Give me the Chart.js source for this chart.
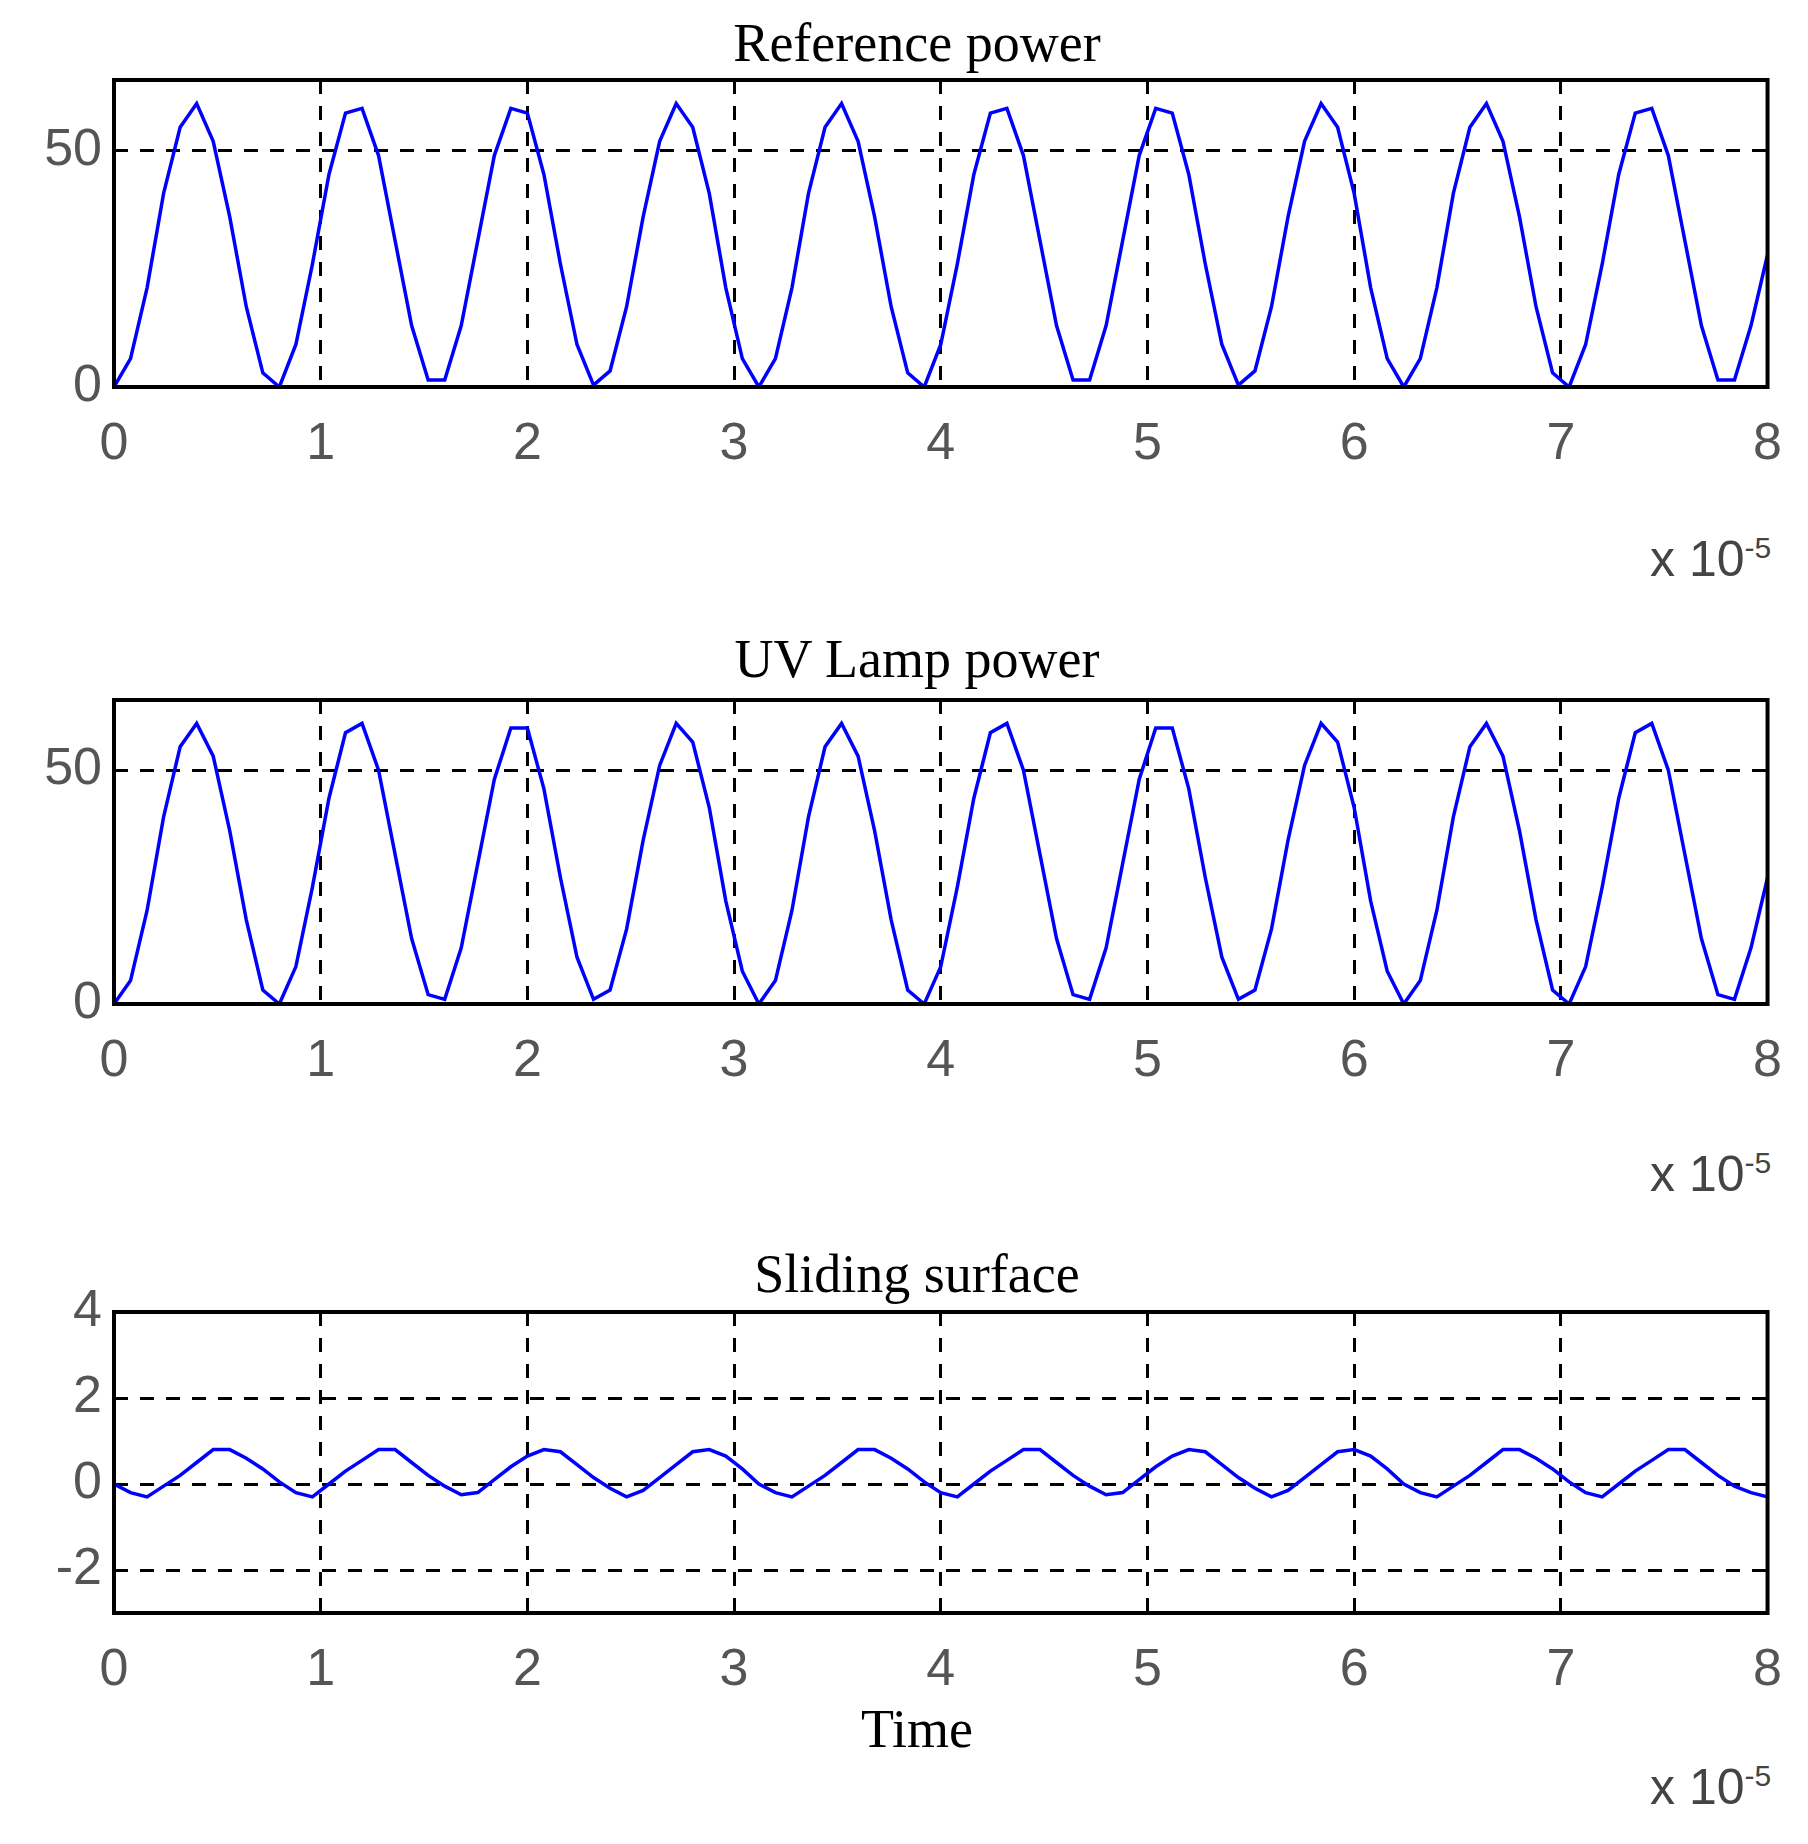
<!DOCTYPE html>
<html>
<head>
<meta charset="utf-8">
<script src="https://cdn.jsdelivr.net/npm/chart.js@4"></script>
<style>
  body { margin: 0; background: #fff; width: 1808px; height: 1844px; position: relative; overflow: hidden; }
  canvas { position: absolute; left: 0; }
  .ttl { position: absolute; left: 84px; width: 1666px; text-align: center; font-family: "Liberation Serif", serif; font-size: 54px; color: #000; }
  .exp { position: absolute; left: 1650px; font-family: "Liberation Sans Narrow", "Liberation Sans", sans-serif; font-size: 50px; color: #444; }
  .exp sup { font-size: 30px; }
</style>
</head>
<body>
<div class="ttl" style="top:12px">Reference power</div>
<div class="ttl" style="top:628px">UV Lamp power</div>
<div class="ttl" style="top:1243px">Sliding surface</div>
<div class="ttl" style="top:1698px">Time</div>
<div class="exp" style="top:530px">x 10<sup>-5</sup></div>
<div class="exp" style="top:1145px">x 10<sup>-5</sup></div>
<div class="exp" style="top:1758px">x 10<sup>-5</sup></div>
<canvas id="c1"></canvas>
<canvas id="c2"></canvas>
<canvas id="c3"></canvas>
<script>
// time axis in units of 1e-5 s, sampled every 0.08
const timeStep = 0.08;
const xTicks = [0, 1, 2, 3, 4, 5, 6, 7, 8];

const referencePower = [
  0, 6, 21, 41, 55, 60, 52, 36, 17, 3, 0, 9, 26, 45, 58, 59, 49, 31, 13, 1.5,
  1.5, 13, 31, 49, 59, 58, 45, 26, 9, 0.4, 3.4, 17, 36, 52, 60, 55, 41, 21, 6,
  0, 6, 21, 41, 55, 60, 52, 36, 17, 3, 0, 9, 26, 45, 58, 59, 49, 31, 13, 1.5,
  1.5, 13, 31, 49, 59, 58, 45, 26, 9, 0.4, 3.4, 17, 36, 52, 60, 55, 41, 21, 6,
  0, 6, 21, 41, 55, 60, 52, 36, 17, 3, 0, 9, 26, 45, 58, 59, 49, 31, 13, 1.5,
  1.5, 13, 28
];
const lampPower = [
  0, 5, 20, 40, 55, 60, 53, 37, 18, 3, 0, 8, 25, 44, 58, 60, 50, 32, 14, 2,
  1, 12, 30, 48, 59, 59, 46, 27, 10, 1, 3, 16, 35, 51, 60, 56, 42, 22, 7,
  0, 5, 20, 40, 55, 60, 53, 37, 18, 3, 0, 8, 25, 44, 58, 60, 50, 32, 14, 2,
  1, 12, 30, 48, 59, 59, 46, 27, 10, 1, 3, 16, 35, 51, 60, 56, 42, 22, 7,
  0, 5, 20, 40, 55, 60, 53, 37, 18, 3, 0, 8, 25, 44, 58, 60, 50, 32, 14, 2,
  1, 12, 27
];
const slidingSurface = [
  0, -0.2, -0.3, -0.05, 0.2, 0.5, 0.8, 0.8, 0.6, 0.35, 0.05, -0.2, -0.3, 0, 0.3, 0.55, 0.8, 0.8, 0.5, 0.2,
  -0.05, -0.25, -0.2, 0.1, 0.4, 0.65, 0.8, 0.75, 0.45, 0.15, -0.1, -0.3, -0.15, 0.15, 0.45, 0.75, 0.8, 0.65, 0.35,
  0, -0.2, -0.3, -0.05, 0.2, 0.5, 0.8, 0.8, 0.6, 0.35, 0.05, -0.2, -0.3, 0, 0.3, 0.55, 0.8, 0.8, 0.5, 0.2,
  -0.05, -0.25, -0.2, 0.1, 0.4, 0.65, 0.8, 0.75, 0.45, 0.15, -0.1, -0.3, -0.15, 0.15, 0.45, 0.75, 0.8, 0.65, 0.35,
  0, -0.2, -0.3, -0.05, 0.2, 0.5, 0.8, 0.8, 0.6, 0.35, 0.05, -0.2, -0.3, 0, 0.3, 0.55, 0.8, 0.8, 0.5, 0.2,
  -0.05, -0.2, -0.3
];
const powerTicks = [0, 50];
const surfaceTicks = [-2, 0, 2, 4];

const tickFont = { family: "'Liberation Sans Narrow', 'Liberation Sans', sans-serif", size: 52 };

// solid frame around the plot area
const boxPlugin = {
  id: "box",
  afterDraw(chart) {
    const a = chart.chartArea, ctx = chart.ctx;
    ctx.save();
    ctx.strokeStyle = "#000";
    ctx.lineWidth = 4;
    ctx.strokeRect(a.left, a.top, a.right - a.left, a.bottom - a.top);
    ctx.restore();
  }
};

function makeChart(id, top, height, values, yMin, yMax, yTicks) {
  const cv = document.getElementById(id);
  cv.width = 1808;
  cv.height = height;
  cv.style.top = top + "px";
  cv.style.width = "1808px";
  cv.style.height = height + "px";
  const pts = values.map((v, i) => ({ x: +(i * timeStep).toFixed(2), y: v }));
  return new Chart(cv, {
    type: "line",
    data: { datasets: [{ data: pts, borderColor: "#0000ff", borderWidth: 3.5, pointRadius: 0, tension: 0, fill: false }] },
    options: {
      responsive: false,
      animation: false,
      devicePixelRatio: 1,
      layout: { padding: { top: 80, right: 28, left: 0, bottom: 0 } },
      plugins: { legend: { display: false }, tooltip: { enabled: false } },
      scales: {
        x: {
          type: "linear", min: 0, max: 8,
          afterBuildTicks: (s) => { s.ticks = xTicks.map(v => ({ value: v })); },
          afterFit: (s) => { s.height = 100; },
          grid: { color: "#000", lineWidth: 3, drawTicks: false },
          border: { display: false, dash: [14, 12] },
          ticks: { color: "#555", font: tickFont, padding: 26, maxRotation: 0 }
        },
        y: {
          min: yMin, max: yMax,
          afterBuildTicks: (s) => { s.ticks = yTicks.map(v => ({ value: v })); },
          afterFit: (s) => { s.width = 114; },
          grid: { color: "#000", lineWidth: 3, drawTicks: false },
          border: { display: false, dash: [14, 12] },
          ticks: { color: "#555", font: tickFont, padding: 12 }
        }
      }
    },
    plugins: [boxPlugin]
  });
}

makeChart("c1", 0, 487, referencePower, 0, 65, powerTicks);
makeChart("c2", 620, 484, lampPower, 0, 65, powerTicks);
makeChart("c3", 1232, 481, slidingSurface, -3, 4, surfaceTicks);
</script>
</body>
</html>
